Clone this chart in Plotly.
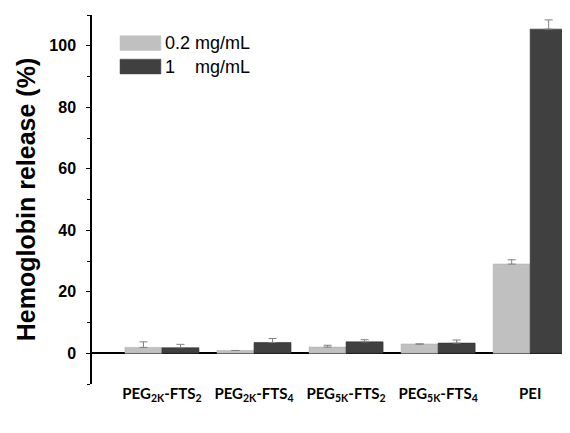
import plotly.graph_objects as go

categories = ["PEG<sub>2K</sub>-FTS<sub>2</sub>", "PEG<sub>2K</sub>-FTS<sub>4</sub>",
              "PEG<sub>5K</sub>-FTS<sub>2</sub>", "PEG<sub>5K</sub>-FTS<sub>4</sub>", "PEI"]
series_names = ["0.2 mg/mL", "1\u00a0\u00a0\u00a0\u00a0mg/mL"]
low_vals = [1.9, 0.9, 2.0, 3.0, 29.0]
low_err = [1.8, 0.0, 0.6, 0.0, 1.4]
high_vals = [1.8, 3.5, 3.7, 3.3, 105.4]
high_err = [1.1, 1.3, 0.7, 1.0, 3.0]
y_tickvals = [0, 20, 40, 60, 80, 100]

light = "#c0c0c0"
dark = "#404040"
errc = "#808080"

x_idx = list(range(len(categories)))
y_min, y_max = -10, 110

fig = go.Figure()
fig.add_trace(go.Bar(x=x_idx, y=low_vals, name=series_names[0], marker=dict(color=light, line=dict(color="#b0b0b0", width=0.6)),
                     error_y=dict(type="data", array=low_err, arrayminus=[0]*5, symmetric=False, color=errc, thickness=1, width=4),
                     showlegend=False))
fig.add_trace(go.Bar(x=x_idx, y=high_vals, name=series_names[1], marker=dict(color=dark, line=dict(color="#333333", width=0.6)),
                     error_y=dict(type="data", array=high_err, arrayminus=[0]*5, symmetric=False, color=errc, thickness=1, width=4),
                     showlegend=False))

# legend drawn as swatches + text
legend_rows = [(series_names[0], light), (series_names[1], dark)]
for k, (nm, col) in enumerate(legend_rows):
    y0 = 0.944 - k * 0.0637
    fig.add_shape(type="rect", xref="paper", yref="paper", x0=0.059, x1=0.145, y0=y0 - 0.040, y1=y0,
                  fillcolor=col, line=dict(color=col, width=0.5))
    fig.add_annotation(xref="paper", yref="paper", x=0.150, y=y0 - 0.020, text=nm, showarrow=False,
                       xanchor="left", yanchor="middle",
                       font=dict(family="Liberation Sans", size=18, color="black"))

fig.update_layout(
    width=562, height=425,
    margin=dict(l=84, r=3, t=7, b=49),
    paper_bgcolor="white", plot_bgcolor="white",
    barmode="group", bargap=0.196, bargroupgap=0,
    showlegend=False,
    xaxis=dict(range=[-0.76, 4.40], showline=False, ticks="", showgrid=False, zeroline=False,
               automargin=False, fixedrange=True,
               anchor="free", position=(0 - y_min) / (y_max - y_min),
               tickmode="array", tickvals=x_idx, ticktext=categories,
               tickangle=0, ticklabelstandoff=30,
               tickfont=dict(family="Lato", size=15, color="black", weight="bold")),
    yaxis=dict(range=[y_min, y_max], showline=True, linecolor="black", linewidth=1.5,
               ticks="outside", ticklen=4, tickwidth=1.2, tickcolor="black",
               tickvals=y_tickvals, ticklabelstandoff=7,
               tickfont=dict(family="Liberation Sans", size=16, color="black", weight="bold"),
               minor=dict(tickvals=[-10, 10, 30, 50, 70, 90, 110], ticks="outside", ticklen=3, tickcolor="black", tickwidth=1.2),
               showgrid=False, zeroline=True, zerolinecolor="black", zerolinewidth=1.5,
               automargin=False,
               title=dict(text="Hemoglobin release (%)", standoff=7,
                          font=dict(family="Liberation Sans", size=25, color="black", weight="bold"))),
)

fig.write_html("out.html")
